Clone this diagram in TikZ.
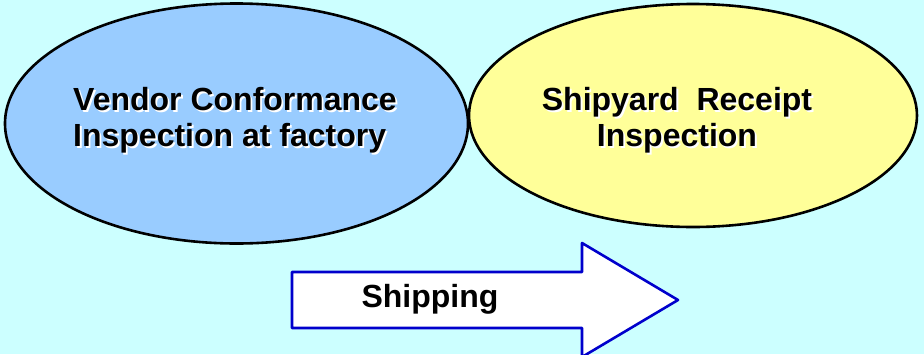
\documentclass[tikz,border=0pt]{standalone}
\usepackage{fontspec}
\setmainfont{Liberation Sans}
\usetikzlibrary{shapes.geometric}

\definecolor{skyback}{HTML}{CCFFFF}
\definecolor{vendorblue}{HTML}{99CCFF}
\definecolor{yardyellow}{HTML}{FFFF99}
\definecolor{arrowblue}{HTML}{0000CC}

% bold text with a light offset shadow behind it
\newcommand{\glow}[1]{\makebox[0pt][l]{\hspace{1.8pt}\raisebox{-1.8pt}{\color{white}#1}}#1}

\begin{document}
\begin{tikzpicture}[x=1pt,y=-1pt,line join=round]
  \tikzstyle{oval}=[ellipse,draw=black,line width=2.6pt,inner sep=0pt]
  \tikzstyle{caption}=[font=\fontsize{32}{36}\selectfont\bfseries,
                       align=center,inner sep=0pt]

  \fill[skyback] (0,0) rectangle (924,354);
  \useasboundingbox (0,0) rectangle (924,354);
  \clip (0,0) rectangle (924,354);

  \node[oval,fill=vendorblue,minimum width=463pt,minimum height=240pt]
       (vendor) at (236.5,123.5) {};
  \node[oval,fill=yardyellow,minimum width=448pt,minimum height=223pt]
       (yard) at (693,115.5) {};

  \node[caption,align=left,anchor=west] (vendortext) at (73,121.5)
       {\glow{Vendor Conformance}\\\glow{Inspection at factory}};
  \node[caption] (yardtext) at (677,121.5)
       {\glow{Shipyard\ \ Receipt}\\\glow{Inspection}};

  % block arrow for the shipping step
  \draw[arrowblue,fill=white,line width=2.6pt]
       (292,272) -- (582,272) -- (582,243) -- (678,300)
       -- (582,357) -- (582,328) -- (292,328) -- cycle;
  \node[caption] (ship) at (430,300) {\glow{Shipping}};
\end{tikzpicture}
\end{document}
